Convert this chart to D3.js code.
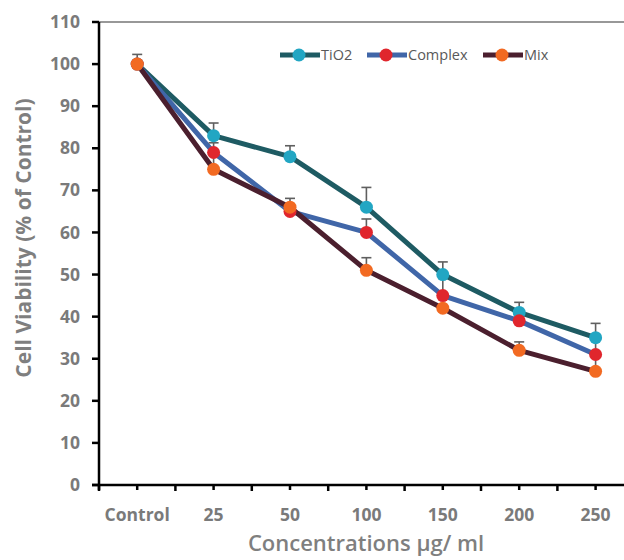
<html>
  <head>
    <script src="https://d3js.org/d3.v7.min.js"></script>
    <style>
      body { margin: 0; background: #fff; }
      text { font-family: "Open Sans", sans-serif; }
      .tick-label { font-weight: 700; font-size: 17.5px; fill: #7a7a7a; }
      .axis-title { font-weight: 700; font-size: 21px; fill: #7f7f7f; }
      .legend-text { font-size: 14.5px; fill: #595959; }
    </style>
  </head>
  <body>
    <svg id="chart" width="624" height="560"></svg>
    <script>
      // data
      const categories = ["Control", "25", "50", "100", "150", "200", "250"];
      const seriesNames = ["TiO2", "Complex", "Mix"];
      const tio2 = [100, 83, 78, 66, 50, 41, 35];
      const complex = [100, 79, 65, 60, 45, 39, 31];
      const mix = [100, 75, 66, 51, 42, 32, 27];
      const tio2Err = [0, 3, 2.6, 4.7, 3, 2.4, 3.4];
      const complexErr = [0, 2.3, 0, 3.2, 5, 0, 4];
      const mixErr = [2.3, 4, 2.1, 3, 0, 2, 4];
      const yTicks = [0, 10, 20, 30, 40, 50, 60, 70, 80, 90, 100, 110];

      const lineColors = ["#1e5b63", "#4066a8", "#4b1f2e"];
      const markerColors = ["#22a6c3", "#e0262d", "#f26a22"];

      const svg = d3.select("svg#chart");
      const margin = {"top": 22, "left": 99, "bottom": 75};
      const plotBottom = 560 - margin.bottom;

      const allValues = [tio2, complex, mix];
      const allErrs = [tio2Err, complexErr, mixErr];
      const series = allValues.map((vals, s) => ({
        name: seriesNames[s],
        points: vals.map((v, i) => ({cat: categories[i], value: v, err: allErrs[s][i]}))
      }));

      const x = d3.scaleBand().domain(categories).range([margin.left, margin.left + 7 * 76.4]);
      const y = d3.scaleLinear().domain([0, 110]).range([plotBottom, margin.top]);

      // frame top line
      svg.append("line")
        .attr("x1", margin.left).attr("x2", 624)
        .attr("y1", y(110)).attr("y2", y(110))
        .attr("stroke", "#333").attr("stroke-width", 1.2);

      // y axis
      const yAxis = svg.append("g");
      yAxis.append("line")
        .attr("x1", margin.left).attr("x2", margin.left)
        .attr("y1", y(110)).attr("y2", plotBottom + 5)
        .attr("stroke", "#000").attr("stroke-width", 2.5);
      yAxis.selectAll(".yt").data(yTicks).join("line")
        .attr("x1", margin.left - 7).attr("x2", margin.left)
        .attr("y1", d => y(d)).attr("y2", d => y(d))
        .attr("stroke", "#000").attr("stroke-width", 2.5);
      yAxis.selectAll("text").data(yTicks).join("text")
        .attr("class", "tick-label")
        .attr("x", 80).attr("y", d => y(d))
        .attr("dy", "0.35em")
        .attr("text-anchor", "end")
        .text(d => d);

      // x axis
      const xAxis = svg.append("g");
      xAxis.append("line")
        .attr("x1", margin.left - 7).attr("x2", 624)
        .attr("y1", plotBottom).attr("y2", plotBottom)
        .attr("stroke", "#000").attr("stroke-width", 2.5);
      const edges = categories.map(c => x(c)).concat([x.range()[1]]);
      xAxis.selectAll(".edge").data(edges).join("line")
        .attr("x1", d => d).attr("x2", d => d)
        .attr("y1", plotBottom).attr("y2", plotBottom + 6)
        .attr("stroke", "#000").attr("stroke-width", 2.5);
      xAxis.selectAll(".mid").data(categories).join("line")
        .attr("x1", d => x(d) + x.bandwidth() / 2).attr("x2", d => x(d) + x.bandwidth() / 2)
        .attr("y1", plotBottom).attr("y2", plotBottom + 5)
        .attr("stroke", "#000").attr("stroke-width", 2.5);
      xAxis.selectAll("text").data(categories).join("text")
        .attr("class", "tick-label")
        .attr("x", d => x(d) + x.bandwidth() / 2)
        .attr("y", plotBottom + 36)
        .attr("text-anchor", "middle")
        .text(d => d);

      // axis titles
      svg.append("text")
        .attr("class", "axis-title")
        .style("font-weight", 600)
        .style("font-size", "22px")
        .attr("x", 366).attr("y", 551)
        .attr("text-anchor", "middle")
        .text("Concentrations µg/ ml");
      svg.append("text")
        .attr("class", "axis-title")
        .attr("transform", "translate(31,238) rotate(-90)")
        .attr("text-anchor", "middle")
        .text("Cell  Viability (% of Control)");

      const cx = d => x(d.cat) + x.bandwidth() / 2;
      const line = d3.line().x(cx).y(d => y(d.value));

      // lines
      svg.selectAll(".series-line").data(series).join("path")
        .attr("d", d => line(d.points))
        .attr("fill", "none")
        .attr("stroke", (d, i) => lineColors[i])
        .attr("stroke-width", 5)
        .attr("stroke-linejoin", "round");

      // error bars (plus only)
      series.forEach((s, i) => {
        const eb = svg.append("g").attr("stroke", "#5f5f5f").attr("stroke-width", 1.6);
        const pts = s.points.filter(p => p.err > 0);
        eb.selectAll(".v").data(pts).join("line")
          .attr("x1", cx).attr("x2", cx)
          .attr("y1", d => y(d.value)).attr("y2", d => y(d.value + d.err));
        eb.selectAll(".c").data(pts).join("line")
          .attr("x1", d => cx(d) - 5).attr("x2", d => cx(d) + 5)
          .attr("y1", d => y(d.value + d.err)).attr("y2", d => y(d.value + d.err));
      });

      // markers
      series.forEach((s, i) => {
        svg.append("g").selectAll("circle").data(s.points).join("circle")
          .attr("cx", cx)
          .attr("cy", d => y(d.value))
          .attr("r", 6.5)
          .attr("fill", markerColors[i]);
      });

      // legend
      const legendX = [280, 367, 483];
      const legend = svg.append("g");
      seriesNames.forEach((name, i) => {
        const g = legend.append("g").attr("transform", "translate(" + legendX[i] + ",55)");
        g.append("line").attr("x1", 0).attr("x2", 40).attr("y1", 0).attr("y2", 0)
          .attr("stroke", lineColors[i]).attr("stroke-width", 5);
        g.append("circle").attr("cx", 19).attr("cy", 0).attr("r", 6.5).attr("fill", markerColors[i]);
        g.append("text").attr("class", "legend-text")
          .attr("x", 41).attr("y", 0).attr("dy", "0.35em")
          .text(name);
      });
    </script>
  </body>
</html>
